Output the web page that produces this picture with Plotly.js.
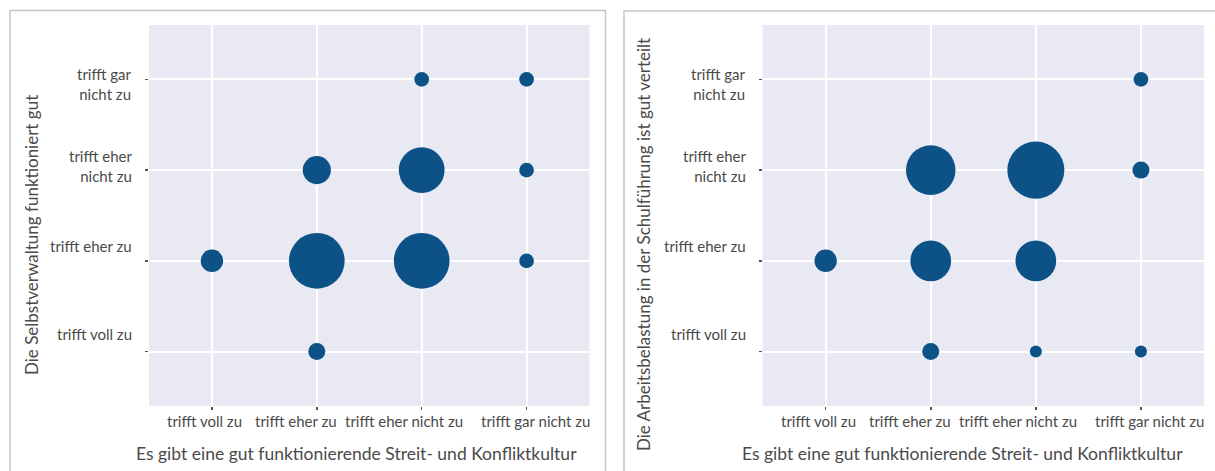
<!DOCTYPE html>
<html>
<head>
<meta charset="utf-8">
<script src="https://cdn.plot.ly/plotly-3.0.1.min.js"></script>
<style>html,body{margin:0;padding:0;background:#fff;}#chart{width:1215px;height:471px;}</style>
</head>
<body>
<div id="chart"></div>
<script>
// ---- data ----
var levels = ["trifft voll zu", "trifft eher zu", "trifft eher nicht zu", "trifft gar nicht zu"];
var xTickText = ["trifft voll zu", "trifft eher zu", "trifft eher nicht zu", "trifft gar nicht zu"];
var yTickText = ["trifft voll zu", "trifft eher zu", "trifft eher<br>nicht zu", "trifft gar<br>nicht zu"];

var xTitle = "Es gibt eine gut funktionierende Streit- und Konfliktkultur";
var leftYTitle = "Die Selbstverwaltung funktioniert gut";
var rightYTitle = "Die Arbeitsbelastung in der Schulführung ist gut verteilt";

var leftX = ["trifft eher nicht zu", "trifft gar nicht zu", "trifft eher zu", "trifft eher nicht zu", "trifft gar nicht zu",
             "trifft voll zu", "trifft eher zu", "trifft eher nicht zu", "trifft gar nicht zu", "trifft eher zu"];
var leftY = ["trifft gar nicht zu", "trifft gar nicht zu", "trifft eher nicht zu", "trifft eher nicht zu", "trifft eher nicht zu",
             "trifft eher zu", "trifft eher zu", "trifft eher zu", "trifft eher zu", "trifft voll zu"];
var leftN = [3, 3, 11, 29, 3, 7, 43, 43, 3, 4];

var rightX = ["trifft gar nicht zu", "trifft eher zu", "trifft eher nicht zu", "trifft gar nicht zu", "trifft voll zu",
              "trifft eher zu", "trifft eher nicht zu", "trifft eher zu", "trifft eher nicht zu", "trifft gar nicht zu"];
var rightY = ["trifft gar nicht zu", "trifft eher nicht zu", "trifft eher nicht zu", "trifft eher nicht zu", "trifft eher zu",
              "trifft eher zu", "trifft eher zu", "trifft voll zu", "trifft voll zu", "trifft voll zu"];
var rightN = [3, 34, 45, 4, 7, 23, 23, 4, 2, 2];

// ---- style ----
var FONT = "Lato, 'Open Sans', sans-serif";
var TXT = "#4a4a4a";
var BUBBLE = "#0c5286";
var BG = "#e8e9f3";
var SIZEREF = 2 / 72.25;   // diameter = 8.5 * sqrt(n)
var xLabelShift = [-7, -21, -18, 9];   // horizontal offset of category labels (px)
var yLabelShift = [18, 15, 4.5, -4.7]; // vertical offset of category labels (px)

function bubbles(x, y, n, xa, ya) {
  return {
    type: "scatter", mode: "markers", x: x, y: y, xaxis: xa, yaxis: ya,
    marker: {size: n, sizemode: "area", sizeref: SIZEREF, color: BUBBLE, opacity: 1, line: {width: 0}},
    hoverinfo: "x+y+text", text: n.map(function (v) { return "n = " + v; }), showlegend: false
  };
}

function axisBase(domain, anchor) {
  return {
    domain: domain, anchor: anchor, type: "category",
    categoryorder: "array", categoryarray: levels,
    range: [-0.6, 3.6], autorange: false,
    showgrid: true, gridcolor: "#ffffff", gridwidth: 2,
    zeroline: false, showline: false,
    ticks: "outside", ticklen: 3, tickwidth: 1.5, tickcolor: "#555555",
    showticklabels: false, fixedrange: true
  };
}

var yDom = [0.138, 0.947];
var layout = {
  width: 1215, height: 471,
  margin: {l: 0, r: 0, t: 0, b: 0, pad: 0},
  paper_bgcolor: "#ffffff", plot_bgcolor: BG,
  font: {family: FONT, color: TXT, size: 15},
  showlegend: false,
  xaxis: axisBase([149 / 1215, 589.5 / 1215], "y"),
  yaxis: axisBase(yDom, "x"),
  xaxis2: axisBase([762.6 / 1215, 1204 / 1215], "y2"),
  yaxis2: axisBase(yDom, "x2"),
  shapes: [
    {type: "rect", xref: "paper", yref: "paper", x0: 10 / 1215, x1: 605.5 / 1215, y0: -0.05, y1: 1 - 10.5 / 471,
     line: {color: "#c6c6c6", width: 1.5}, fillcolor: "rgba(0,0,0,0)", layer: "below"},
    {type: "rect", xref: "paper", yref: "paper", x0: 624 / 1215, x1: 1.05, y0: -0.05, y1: 1 - 11 / 471,
     line: {color: "#c6c6c6", width: 1.5}, fillcolor: "rgba(0,0,0,0)", layer: "below"}
  ],
  annotations: [
    {xref: "paper", yref: "paper", x: 356 / 1215, y: 1 - 453 / 471, xanchor: "center", yanchor: "middle",
     text: xTitle, showarrow: false, font: {family: FONT, size: 17.5, color: TXT}},
    {xref: "paper", yref: "paper", x: 962 / 1215, y: 1 - 453 / 471, xanchor: "center", yanchor: "middle",
     text: xTitle, showarrow: false, font: {family: FONT, size: 17.5, color: TXT}},
    {xref: "paper", yref: "paper", x: 31 / 1215, y: 1 - 235 / 471, xanchor: "center", yanchor: "middle",
     textangle: -90, text: leftYTitle, showarrow: false, font: {family: FONT, size: 17, color: TXT}},
    {xref: "paper", yref: "paper", x: 643 / 1215, y: 1 - 245 / 471, xanchor: "center", yanchor: "middle",
     textangle: -90, text: rightYTitle, showarrow: false, font: {family: FONT, size: 17, color: TXT}}
  ]
};

[["x", "y"], ["x2", "y2"]].forEach(function (p) {
  levels.forEach(function (lv, i) {
    layout.annotations.push({
      xref: p[0], yref: p[1] + " domain", x: lv, y: 0, xanchor: "center", yanchor: "top",
      yshift: -4, xshift: xLabelShift[i], text: xTickText[i], showarrow: false,
      font: {family: FONT, size: 15, color: TXT}
    });
    layout.annotations.push({
      xref: p[0] + " domain", yref: p[1], x: 0, y: lv, xanchor: "right", yanchor: "middle",
      xshift: -15, yshift: yLabelShift[i], text: yTickText[i], showarrow: false, align: "right",
      font: {family: FONT, size: 15, color: TXT}
    });
  });
});

Plotly.newPlot("chart", [
  bubbles(leftX, leftY, leftN, "x", "y"),
  bubbles(rightX, rightY, rightN, "x2", "y2")
], layout, {displayModeBar: false, staticPlot: true});
</script>
</body>
</html>
